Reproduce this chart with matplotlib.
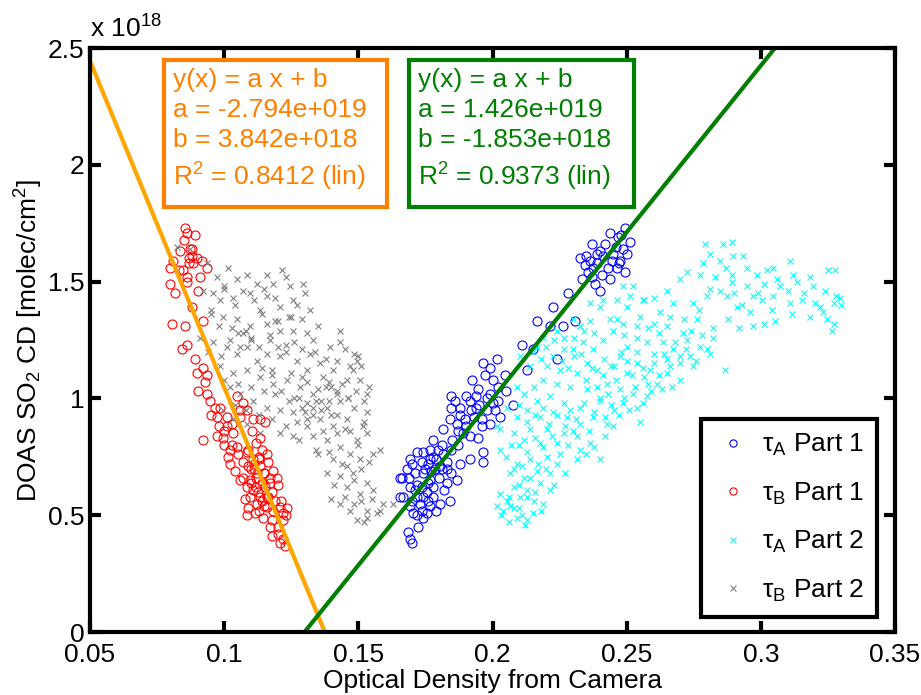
import matplotlib
matplotlib.use("Agg")
import matplotlib.pyplot as plt
from matplotlib.patches import Rectangle
import numpy as np

plt.rcParams['font.family'] = ['Liberation Sans', 'DejaVu Sans']
plt.rcParams['mathtext.fontset'] = 'custom'
plt.rcParams['mathtext.rm'] = 'Liberation Sans'
plt.rcParams['mathtext.it'] = 'Liberation Sans:italic'

# SO2 column densities in units of 1e18 molec/cm2
tauA1_x = [0.2438, 0.2494, 0.2469, 0.2512, 0.2487, 0.2475, 0.2463, 0.2494, 0.2438, 0.2400,
           0.2369, 0.2388, 0.2363, 0.2326, 0.2345, 0.2376, 0.2357, 0.2332, 0.2407, 0.2382,
           0.2413, 0.2444, 0.2282, 0.2226, 0.2164, 0.2214, 0.2263, 0.2307, 0.2109, 0.2152,
           0.2239, 0.2127, 0.2015, 0.1965, 0.1990, 0.1972, 0.2046, 0.2003, 0.1922, 0.1947,
           0.2052, 0.1990, 0.2021, 0.2077, 0.1903, 0.1847, 0.1878, 0.1915, 0.1940, 0.1978,
           0.2009, 0.2027, 0.1847, 0.1841, 0.1866, 0.1897, 0.1817, 0.1872, 0.1915, 0.1947,
           0.1959, 0.1990, 0.1965, 0.1965, 0.1915, 0.1878, 0.1779, 0.1798, 0.1767, 0.1817,
           0.1847, 0.1742, 0.1736, 0.1767, 0.1804, 0.1847, 0.1866, 0.1829, 0.1692, 0.1680,
           0.1711, 0.1661, 0.1742, 0.1767, 0.1736, 0.1755, 0.1779, 0.1692, 0.1717, 0.1668,
           0.1804, 0.1841, 0.1767, 0.1736, 0.1705, 0.1692, 0.1742, 0.1724, 0.1686, 0.1692,
           0.1699, 0.1755, 0.1655, 0.1655, 0.1786, 0.1760, 0.1810, 0.1720, 0.1780, 0.1830,
           0.1700, 0.1720, 0.1750, 0.1770, 0.1790, 0.1810, 0.1830, 0.1760, 0.1780, 0.1800,
           0.1820, 0.1740, 0.1710, 0.1690, 0.1730, 0.1760, 0.1790, 0.1700, 0.1720, 0.1850,
           0.1870, 0.1890, 0.1900, 0.1880, 0.1930, 0.1950, 0.1960, 0.1920, 0.1860, 0.1980,
           0.2000, 0.2020, 0.1940, 0.2390, 0.2400, 0.2420, 0.2430, 0.2450, 0.2460, 0.2350,
           0.2370, 0.2480, 0.2500, 0.2470]
tauA1_y = [1.71, 1.73, 1.69, 1.67, 1.64, 1.59, 1.56, 1.54, 1.51, 1.46,
           1.66, 1.62, 1.59, 1.60, 1.57, 1.56, 1.54, 1.51, 1.53, 1.49,
           1.61, 1.59, 1.45, 1.39, 1.33, 1.31, 1.31, 1.33, 1.23, 1.21,
           1.17, 1.12, 1.17, 1.15, 1.13, 1.10, 1.10, 1.08, 1.08, 1.04,
           1.03, 1.02, 0.99, 0.97, 1.01, 1.01, 0.96, 0.99, 0.96, 0.95,
           0.95, 0.92, 0.96, 0.91, 0.89, 0.91, 0.87, 0.86, 0.84, 0.83,
           0.88, 0.89, 0.77, 0.73, 0.74, 0.72, 0.82, 0.78, 0.78, 0.76,
           0.78, 0.77, 0.73, 0.74, 0.71, 0.68, 0.65, 0.64, 0.74, 0.70,
           0.68, 0.66, 0.68, 0.65, 0.62, 0.60, 0.58, 0.62, 0.58, 0.58,
           0.55, 0.56, 0.54, 0.52, 0.51, 0.54, 0.49, 0.45, 0.43, 0.40,
           0.38, 0.51, 0.66, 0.58, 0.70, 0.72, 0.80, 0.63, 0.75, 0.70,
           0.72, 0.77, 0.70, 0.69, 0.74, 0.70, 0.73, 0.64, 0.62, 0.66,
           0.61, 0.58, 0.61, 0.66, 0.55, 0.56, 0.52, 0.56, 0.50, 0.82,
           0.80, 0.85, 0.88, 0.93, 0.92, 0.97, 0.91, 0.95, 0.99, 1.00,
           0.98, 1.05, 1.01, 1.58, 1.63, 1.66, 1.56, 1.62, 1.65, 1.61,
           1.52, 1.70, 1.62, 1.58]

tauB1_x = [0.0854, 0.0861, 0.0890, 0.0835, 0.0873, 0.0884, 0.0917, 0.0936, 0.0798, 0.0798,
           0.0817, 0.0861, 0.0903, 0.0880, 0.0806, 0.0854, 0.0921, 0.0861, 0.0843, 0.0891,
           0.0921, 0.0899, 0.0936, 0.0929, 0.0903, 0.0936, 0.0947, 0.0966, 0.0985, 0.0973,
           0.1048, 0.1070, 0.1085, 0.1108, 0.1134, 0.1152, 0.1059, 0.1029, 0.0973, 0.0996,
           0.0921, 0.1033, 0.1104, 0.1134, 0.1022, 0.1014, 0.1048, 0.1085, 0.1108, 0.1141,
           0.1134, 0.1089, 0.1122, 0.1163, 0.1182, 0.1197, 0.1171, 0.1152, 0.1201, 0.1070,
           0.1085, 0.1108, 0.1096, 0.1122, 0.1078, 0.1134, 0.1160, 0.1182, 0.1208, 0.1219,
           0.1234, 0.1085, 0.1115, 0.1145, 0.1178, 0.1219, 0.1178, 0.1200, 0.1219, 0.1208,
           0.1227, 0.0870, 0.0845, 0.0880, 0.1100, 0.1120, 0.1150, 0.1125, 0.1095, 0.1140,
           0.1165, 0.1110, 0.1130, 0.1060, 0.1010, 0.1000,
           0.0850, 0.0880, 0.0870, 0.0900, 0.0830, 0.0860, 0.0910, 0.0810, 0.1050, 0.1070,
           0.1090, 0.1110, 0.1130, 0.1150, 0.1170, 0.1100, 0.1120, 0.1140, 0.1160, 0.1180,
           0.1190, 0.1130, 0.1150, 0.1090, 0.1210, 0.1230, 0.1170, 0.1200, 0.1040, 0.1020,
           0.1060, 0.0980, 0.1010, 0.1030, 0.0950, 0.1000, 0.1120, 0.1160]
tauB1_y = [1.73, 1.71, 1.70, 1.63, 1.64, 1.58, 1.59, 1.56, 1.56, 1.49,
           1.45, 1.52, 1.46, 1.39, 1.32, 1.31, 1.33, 1.23, 1.21, 1.17,
           1.13, 1.11, 1.10, 1.07, 1.03, 1.02, 0.99, 0.96, 0.96, 0.92,
           1.01, 0.98, 0.95, 0.91, 0.91, 0.90, 0.92, 0.89, 0.84, 0.83,
           0.82, 0.85, 0.86, 0.83, 0.78, 0.75, 0.79, 0.77, 0.74, 0.78,
           0.71, 0.71, 0.68, 0.73, 0.69, 0.66, 0.64, 0.62, 0.63, 0.66,
           0.62, 0.61, 0.58, 0.55, 0.57, 0.58, 0.535, 0.52, 0.535, 0.51,
           0.53, 0.50, 0.51, 0.49, 0.48, 0.48, 0.41, 0.42, 0.40, 0.38,
           0.37, 1.60, 1.55, 1.61, 0.70, 0.66, 0.68, 0.60, 0.65, 0.56,
           0.58, 0.72, 0.75, 0.95, 0.88, 0.80,
           1.68, 1.64, 1.58, 1.60, 1.55, 1.50, 1.52, 1.59, 0.76, 0.73,
           0.78, 0.70, 0.74, 0.68, 0.66, 0.64, 0.62, 0.64, 0.58, 0.60,
           0.56, 0.52, 0.54, 0.53, 0.56, 0.50, 0.45, 0.45, 0.69, 0.72,
           0.65, 0.88, 0.92, 0.80, 0.93, 0.86, 0.81, 0.76]

tauA2_x = [0.2792, 0.2860, 0.2892, 0.2786, 0.2848, 0.2898, 0.2935, 0.2774, 0.2892, 0.2892,
           0.2811, 0.2848, 0.2873, 0.2947, 0.2985, 0.3022, 0.3047, 0.3109, 0.3010, 0.2972,
           0.3004, 0.3047, 0.3072, 0.3134, 0.3184, 0.3196, 0.3252, 0.3277, 0.3153, 0.3221,
           0.3271, 0.3296, 0.3109, 0.3115, 0.3184, 0.3246, 0.3271, 0.3264, 0.2910, 0.2879,
           0.2917, 0.2972, 0.3010, 0.3053, 0.2867,
           0.2699, 0.2724, 0.2650, 0.2600, 0.2563, 0.2525, 0.2463, 0.2401, 0.2501, 0.2550,
           0.2625, 0.2674, 0.2749, 0.2798, 0.2761, 0.2712, 0.2650, 0.2600, 0.2488, 0.2438,
           0.2364, 0.2327, 0.2265, 0.2302,
           0.2823, 0.2811, 0.2774, 0.2724, 0.2736, 0.2749, 0.2699, 0.2674, 0.2637, 0.2650,
           0.2600, 0.2575, 0.2538, 0.2501, 0.2476, 0.2538, 0.2588, 0.2650, 0.2699, 0.2612,
           0.2563, 0.2501, 0.2451, 0.2414, 0.2376, 0.2339, 0.2389, 0.2351, 0.2302, 0.2265,
           0.2227, 0.2203, 0.2252, 0.2314, 0.2426, 0.2476, 0.2525, 0.2575, 0.2538, 0.2550,
           0.2488, 0.2451, 0.2401, 0.2351, 0.2290, 0.2240, 0.2190, 0.2153, 0.2116, 0.2165,
           0.2215, 0.2265, 0.2327, 0.2376, 0.2426, 0.2327, 0.2277, 0.2227, 0.2178, 0.2128,
           0.2091, 0.2141, 0.2203, 0.2265, 0.2314, 0.2364, 0.2327, 0.2240, 0.2178, 0.2116,
           0.2029, 0.2079, 0.2401, 0.2314,
           0.2203, 0.2141, 0.2091, 0.2165, 0.2215, 0.2116, 0.2066, 0.2079, 0.2128, 0.2178,
           0.2215, 0.2029, 0.2054, 0.2103, 0.2153, 0.2017, 0.2066,
           0.2030, 0.2060, 0.2090, 0.2120, 0.2150, 0.2100, 0.2180, 0.2130,
           0.2102, 0.2140, 0.2090, 0.2053, 0.2015, 0.2028, 0.2165, 0.2189, 0.2239, 0.2301,
           0.2363, 0.2413, 0.2487, 0.2512, 0.2562, 0.2463,
           0.2150, 0.2180, 0.2200, 0.2230, 0.2260, 0.2280, 0.2300, 0.2330, 0.2350, 0.2370,
           0.2390, 0.2410, 0.2430, 0.2440, 0.2460, 0.2480, 0.2500, 0.2520, 0.2540, 0.2560,
           0.2580, 0.2600, 0.2620, 0.2640, 0.2660, 0.2680, 0.2700, 0.2720, 0.2740, 0.2760,
           0.2780, 0.2800, 0.2820, 0.2770, 0.2710, 0.2660, 0.2620, 0.2580, 0.2540, 0.2490,
           0.2450, 0.2410, 0.2380, 0.2340,
           0.2100, 0.2130, 0.2160, 0.2190, 0.2210, 0.2240, 0.2270, 0.2290, 0.2310, 0.2340,
           0.2360, 0.2380, 0.2400, 0.2420, 0.2440, 0.2470, 0.2490, 0.2510, 0.2530, 0.2560,
           0.2590, 0.2630, 0.2670, 0.2100, 0.2130, 0.2160, 0.2190, 0.2220, 0.2250, 0.2280,
           0.2300, 0.2350, 0.2380, 0.2420, 0.2450, 0.2070, 0.2050, 0.2080, 0.2110, 0.2140,
           0.2170, 0.2200, 0.2240, 0.2100, 0.2130, 0.2060, 0.2040, 0.2080, 0.2110, 0.2160,
           0.2190, 0.2230, 0.2270,
           0.2950, 0.2990, 0.3060, 0.3100, 0.3160, 0.3200, 0.3240, 0.3280, 0.3300, 0.2930,
           0.2870, 0.2830, 0.2810, 0.2960, 0.3040, 0.3120, 0.3230, 0.2900]
tauA2_y = [1.66, 1.66, 1.67, 1.58, 1.59, 1.61, 1.61, 1.53, 1.53, 1.50,
           1.47, 1.46, 1.44, 1.48, 1.53, 1.55, 1.56, 1.59, 1.49, 1.44,
           1.42, 1.44, 1.48, 1.50, 1.52, 1.48, 1.55, 1.55, 1.42, 1.39,
           1.41, 1.43, 1.41, 1.36, 1.35, 1.34, 1.32, 1.29, 1.39, 1.34,
           1.30, 1.31, 1.32, 1.33, 1.12,
           1.51, 1.54, 1.46, 1.43, 1.42, 1.48, 1.42, 1.39, 1.39, 1.35,
           1.37, 1.41, 1.41, 1.44, 1.34, 1.34, 1.31, 1.32, 1.32, 1.34,
           1.33, 1.31, 1.26, 1.26,
           1.26, 1.19, 1.22, 1.25, 1.18, 1.14, 1.15, 1.21, 1.24, 1.17,
           1.19, 1.24, 1.26, 1.22, 1.18, 1.15, 1.12, 1.11, 1.08, 1.06,
           1.09, 1.11, 1.14, 1.17, 1.21, 1.24, 1.12, 1.15, 1.18, 1.21,
           1.18, 1.14, 1.12, 1.11, 1.06, 1.04, 1.02, 1.01, 0.96, 0.90,
           0.98, 0.95, 0.99, 1.04, 1.05, 1.06, 1.08, 1.05, 1.02, 0.99,
           1.01, 0.98, 0.96, 0.92, 0.89, 0.89, 0.92, 0.94, 0.92, 0.95,
           0.92, 0.87, 0.87, 0.85, 0.84, 0.81, 0.78, 0.81, 0.81, 0.82,
           0.87, 0.85, 0.74, 0.74,
           0.75, 0.74, 0.72, 0.69, 0.68, 0.66, 0.68, 0.62, 0.61, 0.64,
           0.61, 0.59, 0.56, 0.58, 0.56, 0.54, 0.54,
           0.50, 0.47, 0.49, 0.46, 0.51, 0.53, 0.52, 0.48,
           1.18, 1.14, 1.05, 0.96, 0.88, 0.78, 1.22, 1.26, 1.29, 1.34,
           1.41, 1.42, 1.48, 1.44, 1.42, 1.34,
           1.20, 1.17, 1.22, 1.25, 1.16, 1.13, 1.21, 1.19, 1.08, 1.13,
           1.05, 1.10, 1.02, 1.14, 1.08, 1.20, 1.16, 1.10, 1.20, 1.13,
           1.06, 1.15, 1.10, 1.19, 1.14, 1.24, 1.18, 1.21, 1.29, 1.16,
           1.27, 1.21, 1.30, 1.38, 1.28, 1.35, 1.28, 1.30, 1.31, 1.27,
           1.29, 1.25, 1.28, 1.29,
           0.97, 0.90, 0.93, 0.96, 0.89, 0.93, 0.88, 0.95, 0.91, 0.98,
           0.86, 0.94, 1.00, 0.92, 0.97, 0.93, 1.00, 0.95, 1.05, 0.98,
           1.03, 1.04, 1.05, 0.80, 0.77, 0.83, 0.79, 0.84, 0.76, 0.80,
           0.86, 0.76, 0.79, 0.84, 0.88, 0.80, 0.75, 0.70, 0.71, 0.66,
           0.72, 0.70, 0.72, 0.63, 0.58, 0.58, 0.52, 0.53, 0.50, 0.60,
           0.55, 0.63, 0.68,
           1.56, 1.45, 1.51, 1.46, 1.45, 1.41, 1.46, 1.44, 1.40, 1.40,
           1.56, 1.52, 1.62, 1.37, 1.38, 1.53, 1.37, 1.45]

tauB2_x = [0.0823, 0.0873, 0.0935, 0.0973, 0.1016, 0.1047, 0.1084, 0.1121, 0.1158, 0.1183,
           0.1214, 0.1245, 0.1295, 0.1302, 0.1258, 0.1158, 0.1096, 0.1034, 0.0985, 0.0922,
           0.1351, 0.1320, 0.1208, 0.1133,
           0.0997, 0.1047, 0.1096, 0.1158, 0.1208, 0.1258, 0.1332, 0.1394, 0.1432, 0.1432,
           0.1482, 0.1494, 0.1469, 0.0910, 0.0960, 0.1009, 0.1047, 0.1084, 0.1121, 0.1158,
           0.1208, 0.1270, 0.1320, 0.1357, 0.1407, 0.1457, 0.1506, 0.1531,
           0.0985, 0.1034, 0.1084, 0.1133, 0.1183, 0.1233, 0.1282, 0.1332, 0.1344, 0.1307,
           0.1382, 0.1432, 0.1482, 0.1531, 0.1519, 0.1457, 0.1407, 0.1357, 0.1307, 0.1258,
           0.1208, 0.1158, 0.1109, 0.1059, 0.1022, 0.1208, 0.1258, 0.1332, 0.1382, 0.1432,
           0.1494, 0.1531, 0.1344, 0.1407, 0.1457, 0.1506, 0.1556, 0.1581,
           0.1382, 0.1432, 0.1482, 0.1531, 0.1457, 0.1506, 0.1556, 0.1432, 0.1482, 0.1531,
           0.1568, 0.1593, 0.1630, 0.1494, 0.1531,
           0.0997, 0.1034, 0.1084, 0.1133, 0.1050, 0.1100, 0.1170, 0.1230, 0.1290, 0.1380,
           0.1420, 0.1300, 0.1260, 0.1190, 0.1140, 0.1070, 0.0950, 0.1000, 0.1400, 0.1450,
           0.1360, 0.1240, 0.1180, 0.1310, 0.1390, 0.1460, 0.1520, 0.1250, 0.1200, 0.1330,
           0.0960, 0.1000, 0.1040, 0.1070, 0.1110, 0.1150, 0.1190, 0.1230, 0.1270, 0.1290,
           0.1240, 0.1190, 0.1140, 0.1080, 0.1030, 0.0980, 0.0950, 0.0940, 0.0990, 0.1020,
           0.1060, 0.1100, 0.1130, 0.1170, 0.1200, 0.1230, 0.1260, 0.1290, 0.1310, 0.1340,
           0.1380, 0.1420, 0.1450, 0.1480, 0.1510, 0.1500, 0.1000, 0.1050, 0.1100, 0.1150,
           0.1180, 0.1210, 0.1250, 0.1280, 0.1310, 0.1350, 0.1370, 0.1400, 0.1420, 0.1440,
           0.1460, 0.1490, 0.1520, 0.1540, 0.1390, 0.1360, 0.1330, 0.1290, 0.1270, 0.1230,
           0.1180, 0.1130, 0.1080, 0.1040, 0.1420, 0.1470, 0.1500, 0.1420, 0.1370, 0.1310,
           0.1280, 0.1350, 0.1390, 0.1440, 0.1470, 0.1510, 0.1540, 0.1480, 0.1410, 0.1450,
           0.1510, 0.1550, 0.1580, 0.1470, 0.1520, 0.1400]
tauB2_y = [1.65, 1.64, 1.58, 1.52, 1.56, 1.51, 1.53, 1.49, 1.53, 1.49,
           1.55, 1.48, 1.49, 1.45, 1.42, 1.44, 1.45, 1.43, 1.42, 1.46,
           1.31, 1.38, 1.39, 1.38,
           1.35, 1.34, 1.31, 1.32, 1.29, 1.29, 1.25, 1.22, 1.29, 1.24,
           1.19, 1.16, 1.14, 1.26, 1.24, 1.22, 1.19, 1.22, 1.16, 1.19,
           1.18, 1.16, 1.19, 1.15, 1.12, 1.08, 1.08, 1.02,
           1.14, 1.11, 1.12, 1.09, 1.06, 1.08, 1.05, 1.02, 0.99, 0.98,
           0.96, 0.99, 0.96, 0.94, 0.88, 0.91, 0.88, 0.91, 0.91, 0.94,
           0.95, 0.96, 0.99, 1.02, 1.05, 0.85, 0.84, 0.84, 0.82, 0.79,
           0.82, 0.85, 0.78, 0.74, 0.71, 0.74, 0.76, 0.78,
           0.68, 0.67, 0.65, 0.64, 0.62, 0.59, 0.61, 0.55, 0.55, 0.52,
           0.51, 0.55, 0.55, 0.48, 0.49,
           0.95, 0.91, 0.89, 0.85, 1.28, 1.25, 1.27, 1.23, 1.09, 1.05,
           1.03, 0.94, 1.00, 1.02, 1.13, 1.28, 1.38, 1.47, 0.93, 0.87,
           0.99, 0.99, 1.10, 1.12, 1.07, 1.00, 0.90, 1.35, 1.33, 0.96,
           1.45, 1.48, 1.40, 1.46, 1.42, 1.47, 1.43, 1.52, 1.40, 1.34,
           1.35, 1.33, 1.36, 1.29, 1.30, 1.31, 1.36, 1.20, 1.18, 1.25,
           1.22, 1.26, 1.22, 1.25, 1.22, 1.20, 1.24, 1.21, 1.28, 1.20,
           1.17, 1.16, 1.21, 1.12, 1.14, 1.18, 1.08, 1.06, 1.05, 1.03,
           1.12, 1.03, 1.11, 1.00, 1.07, 1.04, 1.09, 1.05, 1.02, 1.06,
           1.00, 1.03, 0.99, 1.05, 0.99, 0.95, 0.93, 0.96, 0.90, 0.88,
           0.91, 0.93, 0.95, 0.97, 0.93, 0.86, 0.80, 0.85, 0.86, 0.88,
           0.82, 0.76, 0.77, 0.72, 0.76, 0.70, 0.73, 0.68, 0.63, 0.58,
           0.56, 0.57, 0.52, 0.52, 0.47, 0.57]

# linear fits (slope, intercept, R^2) for each camera channel
fit_B = (-2.794e19, 3.842e18, 0.8412)
fit_A = (1.426e19, -1.853e18, 0.9373)

x_ticks = [0.05, 0.1, 0.15, 0.2, 0.25, 0.3, 0.35]
x_tick_labels = ['0.05', '0.1', '0.15', '0.2', '0.25', '0.3', '0.35']
y_ticks = [0, 0.5, 1, 1.5, 2, 2.5]
y_tick_labels = ['0', '0.5', '1', '1.5', '2', '2.5']

orange_line = '#FFA500'
orange_text = '#FF8000'
green = '#007F00'
fs = 19

fig = plt.figure(figsize=(9.21, 6.95), dpi=100)
ax = fig.add_axes([0.0977, 0.0906, 0.8741, 0.8403])

ax.plot(tauA1_x, tauA1_y, 'o', mfc='none', mec='#0000FF', ms=6.5, mew=0.8, label=r'τ$_\mathrm{A}$ Part 1')
ax.plot(tauB1_x, tauB1_y, 'o', mfc='none', mec='#FF0000', ms=6.5, mew=0.8, label=r'τ$_\mathrm{B}$ Part 1')
ax.plot(tauA2_x, tauA2_y, 'x', color='#00FFFF', ms=5, mew=0.8, label=r'τ$_\mathrm{A}$ Part 2')
ax.plot(tauB2_x, tauB2_y, 'x', color='#808080', ms=5, mew=0.8, label=r'τ$_\mathrm{B}$ Part 2')

xx = np.array([0.05, 0.35])
ax.plot(xx, (fit_B[0] * xx + fit_B[1]) / 1e18, color=orange_line, lw=3)
ax.plot(xx, (fit_A[0] * xx + fit_A[1]) / 1e18, color=green, lw=3)

ax.set_xlim(0.05, 0.35)
ax.set_ylim(0, 2.5)
ax.set_xticks(x_ticks)
ax.set_xticklabels(x_tick_labels)
ax.set_yticks(y_ticks)
ax.set_yticklabels(y_tick_labels)
ax.tick_params(direction='in', length=8, width=3, labelsize=fs, top=True, right=True)
ax.tick_params(axis='x', pad=8)
ax.tick_params(axis='y', pad=4)
for s in ax.spines.values():
    s.set_linewidth(3)

ax.set_xlabel('Optical Density from Camera', fontsize=fs, labelpad=1)
ax.set_ylabel(r'DOAS SO$_2$ CD [molec/cm$^2$]', fontsize=fs, labelpad=2)
ax.text(0.0, 1.01, r'x 10$^{18}$', transform=ax.transAxes, fontsize=fs, ha='left', va='bottom')

# fit parameter boxes
def fit_box(x0, x1, color, fit):
    ax.add_patch(Rectangle((x0, 0.728), x1 - x0, 0.251, transform=ax.transAxes,
                           fill=True, facecolor='white', edgecolor=color, lw=3, zorder=5))
    lines = ['y(x) = a x + b',
             'a = %.3e' % fit[0],
             'b = %.3e' % fit[1],
             r'R$^2$ = %.4f (lin)' % fit[2]]
    lines[1] = lines[1].replace('e+', 'e+0')
    lines[2] = lines[2].replace('e+', 'e+0')
    ys = [0.933, 0.882, 0.830, 0.765]
    for s, yy in zip(lines, ys):
        ax.text(x0 + 0.011, yy, s, transform=ax.transAxes, fontsize=fs,
                color=color, va='baseline', ha='left', zorder=6)

fit_box(0.0919, 0.369, orange_text, fit_B)
fit_box(0.396, 0.676, green, fit_A)

leg = ax.legend(loc='lower right', bbox_to_anchor=(0.978, 0.0257), borderaxespad=0,
                fontsize=fs, fancybox=False, framealpha=1, edgecolor='black',
                handlelength=1.4, handletextpad=0.4, borderpad=0.5, labelspacing=0.85,
                markerscale=0.8)
leg.get_frame().set_linewidth(3)

fig.savefig('out.png', dpi=100)
